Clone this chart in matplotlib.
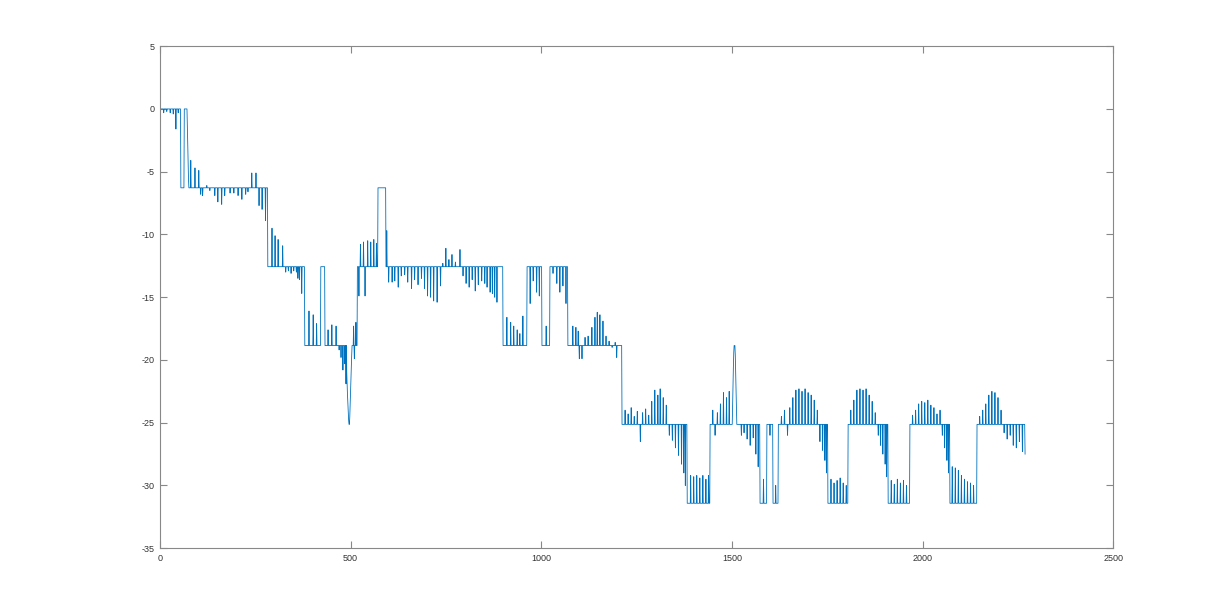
import numpy as np
import matplotlib
matplotlib.use('Agg')
import matplotlib.pyplot as plt

# unwrapped phase, piecewise levels of -2*pi*k plus spikes
n_samples = 2270
step = 2 * np.pi

seg_start = [0, 55, 64, 72, 283, 380, 422, 433, 518, 572, 593, 900, 963, 1002, 1023, 1070,
             1212, 1383, 1443, 1574, 1592, 1608, 1622, 1752, 1805, 1910, 1967, 2072, 2143]
seg_k = [0, 1, 0, 1, 2, 3, 2, 3, 2, 1, 2, 3, 2, 3, 2, 3,
         4, 5, 4, 5, 4, 5, 4, 5, 4, 5, 4, 5, 4]

spike_x = [
    10, 18, 27, 35, 42, 48,
    72, 73, 74, 75,
    81, 92, 102, 107, 112, 123, 131, 144, 152, 162, 170, 184, 194, 205, 215, 225, 231, 241, 252, 260, 268, 277,
    294, 302, 310, 322, 330, 337, 344, 351, 358, 362, 366, 372,
    391, 402, 411,
    441, 451, 462, 470, 475, 480, 485, 488,
    490, 491, 492, 493, 494, 495, 496, 497, 498, 499, 500, 501, 502, 503, 508, 510, 514,
    522, 526, 534, 538, 545, 553, 561, 568,
    595, 600, 609, 616, 625, 633, 642, 650, 660, 668, 677, 686, 694, 702, 710, 718, 727, 736,
    742, 750, 758, 766, 775, 787, 795, 803, 811, 819, 827, 835, 844, 852, 858, 866, 872, 878, 884,
    910, 920, 928, 937, 944, 952,
    971, 979, 988, 995,
    1013,
    1031, 1041, 1049, 1057, 1065,
    1083, 1091, 1097, 1100, 1107, 1115, 1123, 1133, 1141, 1147, 1154, 1162, 1170, 1178, 1186, 1194, 1198,
    1220, 1228, 1236, 1244, 1252, 1260, 1266, 1274, 1282, 1290, 1298, 1306, 1312, 1320, 1328,
    1336, 1344, 1352, 1360, 1368, 1374, 1378,
    1392, 1400, 1408, 1416, 1424, 1432, 1439,
    1450, 1456, 1462, 1470, 1478, 1486, 1493,
    1502, 1503, 1504, 1505, 1506, 1507, 1508, 1509, 1510, 1511, 1512,
    1525, 1532, 1540, 1548, 1556, 1563, 1569,
    1583, 1600, 1615,
    1630, 1638, 1646, 1652, 1660, 1668, 1676, 1684, 1692, 1700, 1708, 1716, 1724, 1731, 1738, 1744, 1748,
    1760, 1768, 1776, 1784, 1792, 1800,
    1812, 1820, 1828, 1836, 1844, 1852, 1860, 1868, 1876, 1884, 1890, 1896, 1902, 1906,
    1918, 1926, 1934, 1942, 1950, 1958,
    1974, 1982, 1990, 1998, 2006, 2014, 2022, 2030, 2038, 2046, 2052, 2058, 2064, 2068,
    2078, 2086, 2094, 2102, 2110, 2118, 2126, 2134,
    2150, 2158, 2166, 2174, 2182, 2190, 2198, 2206, 2214, 2222, 2230, 2238, 2246, 2254, 2262, 2269,
]
spike_y = [
    -0.3, -0.2, -0.3, -0.4, -1.6, -0.3,
    -1.5, -3.0, -4.5, -5.6,
    -4.1, -4.7, -4.9, -6.8, -6.9, -6.1, -6.5, -6.9, -7.4, -7.6, -6.9, -6.7, -6.7, -6.9, -7.2, -6.8, -6.6, -5.1, -5.1, -7.7, -8.0, -8.9,
    -9.5, -10.1, -10.4, -10.9, -13.0, -12.9, -13.1, -12.9, -13.0, -13.5, -13.6, -14.7,
    -16.1, -16.4, -17.1,
    -17.6, -17.2, -17.3, -19.2, -19.8, -20.8, -20.3, -21.9,
    -21.0, -22.0, -22.8, -23.5, -24.2, -24.8, -25.13, -25.13, -24.5, -23.5, -22.5, -21.5, -20.5, -19.6, -17.3, -19.9, -17.0,
    -14.9, -10.8, -10.6, -14.9, -10.5, -10.6, -10.4, -10.7,
    -9.7, -13.8, -13.8, -13.7, -14.2, -13.3, -13.2, -13.8, -14.3, -13.6, -14.0, -13.5, -14.3, -14.9, -15.0, -15.3, -15.4, -14.1,
    -12.3, -11.1, -12.0, -11.6, -12.2, -11.2, -13.3, -13.9, -14.2, -13.6, -14.5, -14.0, -13.7, -13.9, -14.2, -14.6, -14.7, -15.0, -15.4,
    -16.6, -17.0, -17.3, -17.6, -17.9, -16.5,
    -15.5, -13.7, -14.6, -14.9,
    -17.3,
    -13.1, -13.9, -14.6, -14.1, -15.5,
    -17.3, -17.4, -17.7, -19.9, -19.9, -18.2, -18.1, -17.4, -16.6, -16.2, -16.4, -16.9, -18.1, -18.5, -19.0, -18.6, -19.8,
    -24.0, -24.3, -23.8, -24.5, -24.1, -26.5, -24.2, -23.9, -24.4, -23.3, -22.4, -22.8, -22.3, -23.0, -23.6,
    -26.0, -26.4, -27.0, -27.6, -28.3, -29.0, -30.0,
    -29.2, -29.3, -29.2, -29.4, -29.2, -29.5, -29.2,
    -24.0, -26.0, -24.2, -23.5, -22.6, -23.0, -22.5,
    -23.5, -22.0, -20.6, -19.4, -18.85, -18.85, -18.85, -19.6, -21.0, -22.5, -24.0,
    -26.0, -25.8, -26.3, -26.8, -26.2, -27.5, -28.5,
    -29.5, -26.0, -30.0,
    -24.5, -24.0, -26.0, -23.8, -23.0, -22.4, -22.3, -22.5, -22.3, -22.6, -22.8, -23.2, -24.0, -26.5, -27.2, -28.0, -29.0,
    -29.5, -29.8, -29.6, -29.4, -29.8, -30.0,
    -24.0, -23.2, -22.4, -22.3, -22.4, -22.3, -22.8, -23.3, -24.2, -26.0, -26.8, -27.5, -28.3, -29.3,
    -29.6, -29.9, -29.5, -29.8, -29.6, -30.0,
    -24.4, -24.0, -23.5, -23.3, -23.4, -23.2, -23.6, -23.8, -24.3, -24.0, -26.0, -27.0, -28.0, -29.0,
    -28.5, -28.6, -28.8, -29.2, -29.5, -29.7, -29.8, -30.0,
    -24.5, -24.0, -23.5, -22.8, -22.5, -22.6, -23.0, -24.0, -25.8, -26.3, -26.0, -26.8, -27.0, -26.5, -27.3, -27.5,
]

# build the series
t = np.arange(n_samples)
sig = np.zeros(n_samples)
bounds = seg_start + [n_samples]
for i, k in enumerate(seg_k):
    sig[bounds[i]:bounds[i + 1]] = -step * k
sig[np.array(spike_x)] = spike_y

plt.rcParams['font.family'] = ['Liberation Sans', 'DejaVu Sans']
plt.rcParams['axes.unicode_minus'] = False

fig = plt.figure(figsize=(12.3, 6.16), dpi=100)
ax = fig.add_axes([0.13, 0.11, 0.775, 0.815])
ax.plot(t, sig, color=(0, 0.447, 0.741), lw=0.6)

ax.set_xlim(0, 2500)
ax.set_ylim(-35, 5)
ax.set_xticks(np.arange(0, 2501, 500))
ax.set_yticks(np.arange(-35, 6, 5))
for s in ax.spines.values():
    s.set_color('#888888')
    s.set_linewidth(0.8)
ax.tick_params(direction='in', length=5, width=0.8, color='#888888',
               labelsize=6.5, labelcolor='#333333', top=True, right=True, pad=4)

fig.savefig('out.png', dpi=100, facecolor='white')
